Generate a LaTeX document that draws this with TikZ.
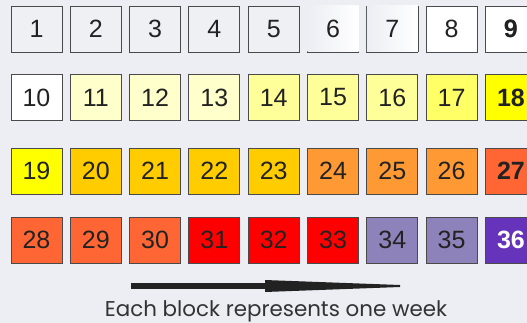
\documentclass[tikz,border=0pt]{standalone}
\usepackage{fontspec}
\setmainfont{Liberation Sans}
\newfontfamily\captionfont{Poppins}
\usetikzlibrary{positioning}

\definecolor{bgpanel}{HTML}{ECEEF3}
\definecolor{boxline}{HTML}{4A4A4A}
\definecolor{numtext}{HTML}{222222}
\definecolor{captext}{HTML}{333333}
\definecolor{wkgrey}{HTML}{EEF0F4}
\definecolor{wkpale}{HTML}{FFFFCC}
\definecolor{wklight}{HTML}{FFFF99}
\definecolor{wkmid}{HTML}{FFFF66}
\definecolor{wkyellow}{HTML}{FFFF00}
\definecolor{wkgold}{HTML}{FFCC00}
\definecolor{wkorange}{HTML}{FF9933}
\definecolor{wkcoral}{HTML}{FF6633}
\definecolor{wkred}{HTML}{FF0000}
\definecolor{wklilac}{HTML}{8E82BA}
\definecolor{wkviolet}{HTML}{6633BB}

\tikzset{
  week/.style={draw=boxline, line width=0.9pt, minimum width=51pt, minimum height=46pt,
    inner sep=0pt, text=numtext, font=\fontsize{25}{25}\selectfont},
  faded/.style={draw=none, left color=bgpanel, right color=white},
  peak/.style={font=\fontsize{25}{25}\selectfont\bfseries}
}

\begin{document}
\begin{tikzpicture}[x=1pt,y=1pt]
  % background panel
  \fill[bgpanel] (0,0) rectangle (527,-323);
  \useasboundingbox (0,0) rectangle (527,-323);

  % one block per week, nine to a row
  \foreach \n/\c in {1/wkgrey,2/wkgrey,3/wkgrey,4/wkgrey,5/wkgrey,6/white,7/white,8/white,9/white,
                     10/white,11/wkpale,12/wkpale,13/wkpale,14/wklight,15/wklight,16/wklight,17/wkmid,18/wkyellow,
                     19/wkyellow,20/wkgold,21/wkgold,22/wkgold,23/wkgold,24/wkorange,25/wkorange,26/wkorange,27/wkcoral,
                     28/wkcoral,29/wkcoral,30/wkcoral,31/wkred,32/wkred,33/wkred,34/wklilac,35/wklilac,36/wkviolet}{
    \pgfmathtruncatemacro\col{mod(\n-1,9)}
    \pgfmathtruncatemacro\row{(\n-1)/9}
    \pgfmathsetmacro\ypos{{29,97.5,171,240}[\row]}
    \node[week, fill=\c] (w\n) at (36.5+59.3*\col,-\ypos) {\n};
  }

  % faded blocks 6 and 7
  \node[week, faded] at (w6) {6};
  \node[week, faded] at (w7) {7};
  \draw[boxline, line width=1.2pt] (w7.north east) -- (w7.south east);

  % bold end-of-row blocks
  \node[week, peak] at (w9) {9};
  \node[week, peak, fill=wkyellow] at (w18) {18};
  \node[week, peak, fill=wkcoral] at (w27) {27};
  \node[week, peak, fill=wkviolet, text=white] at (w36) {36};

  % time arrow: thick shaft, long tapering head
  \coordinate (arrowtail) at (131,-286);
  \coordinate (arrowbase) at (265,-286);
  \coordinate (arrowtip) at (400,-286);
  \draw[numtext, line width=6.5pt] (arrowtail) -- (arrowbase);
  \fill[numtext] ([yshift=6pt]arrowbase) -- ([yshift=1pt]arrowtip)
    -- ([yshift=-1pt]arrowtip) -- ([yshift=-6pt]arrowbase) -- cycle;

  \node[anchor=base, text=captext, inner sep=0pt, font=\captionfont\fontsize{21.4}{21.4}\selectfont] (caption)
    at (276,-316.5) {Each block represents one week};
\end{tikzpicture}
\end{document}
